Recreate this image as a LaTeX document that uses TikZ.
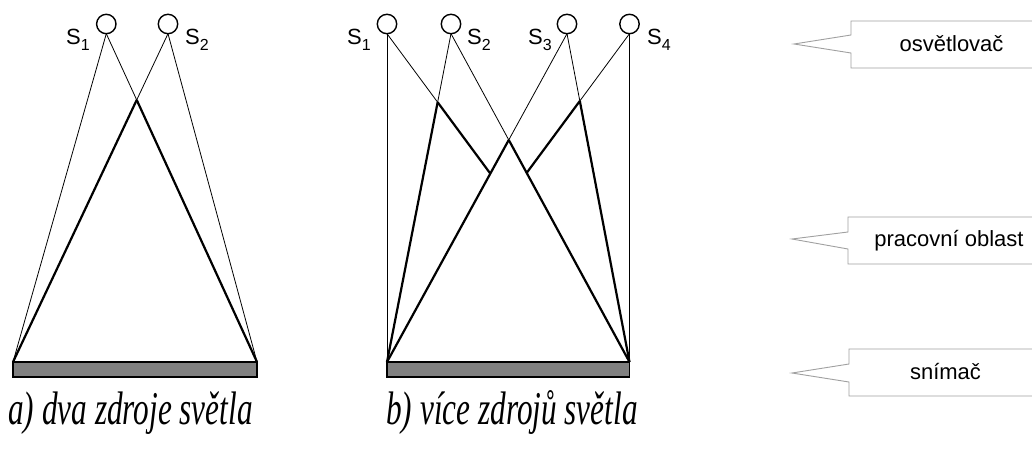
\documentclass[tikz,border=0pt]{standalone}
\usepackage{fontspec}
\setmainfont{Liberation Sans}
\newfontfamily\capfont{Liberation Serif}
\newcommand\lsub[1]{\raisebox{-6pt}{\fontsize{16}{16}\selectfont #1}}
\definecolor{sensorgray}{RGB}{128,128,128}
\definecolor{calloutgray}{RGB}{160,160,160}
\begin{document}
\begin{tikzpicture}[x=1pt,y=-1pt,
  thinray/.style={line width=0.8pt},
  thickray/.style={line width=2.2pt},
  lamp/.style={circle, draw, line width=1.4pt, minimum size=19.4pt, inner sep=0pt, outer sep=0pt, fill=white},
  sensor/.style={draw, line width=1.6pt, fill=sensorgray, minimum width=#1, minimum height=15pt, inner sep=0pt, outer sep=0pt, anchor=north west},
  lbl/.style={anchor=base west, inner sep=0pt, font=\fontsize{22}{26}\selectfont},
  callout/.style={draw=calloutgray, line width=0.9pt, fill=white},
  calltext/.style={anchor=base, inner sep=0pt, font=\fontsize{22}{26}\selectfont},
  caption/.style={anchor=base, inner sep=0pt, font=\capfont\itshape\fontsize{47}{52}\selectfont}]
\clip (0,0) rectangle (1032,450);
\fill[white] (0,0) rectangle (1032,450);

% ---------- panel a ----------
\node[lamp] (a1) at (106.3,24) {};
\node[lamp] (a2) at (168,24) {};
\node[sensor=244pt] (sa) at (13,362) {};
\coordinate (aL) at (sa.north west);
\coordinate (aR) at (sa.north east);
\coordinate (ta1) at (a1.south);
\coordinate (ta2) at (a2.south);
\coordinate (XA) at (intersection of ta1--aR and ta2--aL);
\draw[thinray] (ta1) -- (aL);
\draw[thinray] (ta2) -- (aR);
\draw[thinray] (ta1) -- (XA);
\draw[thinray] (ta2) -- (XA);
\draw[thickray] (XA) -- (aR);
\draw[thickray] (XA) -- (aL);
\node[sensor=244pt] at (13,362) {};
\node[lbl] (la1) at (66,44.5) {S\lsub{1}};
\node[lbl] (la2) at (185,44.5) {S\lsub{2}};

% ---------- panel b ----------
\node[lamp] (b1) at (387,24) {};
\node[lamp] (b2) at (451,24) {};
\node[lamp] (b3) at (567,24) {};
\node[lamp] (b4) at (629.5,24) {};
\node[sensor=242.5pt] (sb) at (387,362) {};
\coordinate (bL) at (sb.north west);
\coordinate (bR) at (sb.north east);
\coordinate (tb1) at (b1.south);
\coordinate (tb2) at (b2.south);
\coordinate (tb3) at (b3.south);
\coordinate (tb4) at (b4.south);
\coordinate (X1) at (intersection of tb1--bR and tb2--bL);
\coordinate (Y1) at (intersection of tb1--bR and tb3--bL);
\coordinate (Z)  at (intersection of tb2--bR and tb3--bL);
\coordinate (X2) at (intersection of tb3--bR and tb4--bL);
\coordinate (Y2) at (intersection of tb4--bL and tb2--bR);
\draw[thinray] (tb1) -- (bL);
\draw[thinray] (tb4) -- (bR);
\draw[thinray] (tb1) -- (X1);
\draw[thinray] (tb2) -- (X1);
\draw[thinray] (tb2) -- (Z);
\draw[thinray] (tb3) -- (Z);
\draw[thinray] (tb3) -- (X2);
\draw[thinray] (tb4) -- (X2);
\draw[thickray] (X1) -- (Y1);
\draw[thickray] (X1) -- (bL);
\draw[thickray] (Z) -- (bR);
\draw[thickray] (Z) -- (bL);
\draw[thickray] (X2) -- (bR);
\draw[thickray] (X2) -- (Y2);
\node[sensor=242.5pt] at (387,362) {};
\node[lbl] (lb1) at (347,44.5) {S\lsub{1}};
\node[lbl] (lb2) at (467,44.5) {S\lsub{2}};
\node[lbl] (lb3) at (528,44.5) {S\lsub{3}};
\node[lbl] (lb4) at (647,44.5) {S\lsub{4}};

% ---------- captions ----------
\node[caption] (capa) at (130.5,424) {\scalebox{0.665}[1]{a) dva zdroje světla}};
\node[caption] (capb) at (512,424) {\scalebox{0.665}[1]{b) více zdrojů světla}};

% ---------- callouts ----------
\draw[callout] (851,21) -- (1052,21) -- (1052,68) -- (851,68) -- (851,53) -- (794,44) -- (851,35) -- cycle;
\node[calltext] (c1) at (951.5,51.5) {osvětlovač};
\draw[callout] (848,217) -- (1052,217) -- (1052,264) -- (848,264) -- (848,249) -- (792,239) -- (848,232) -- cycle;
\node[calltext] (c2) at (949,246) {pracovní oblast};
\draw[callout] (849,349) -- (1052,349) -- (1052,396) -- (849,396) -- (849,382) -- (792,373) -- (849,364) -- cycle;
\node[calltext] (c3) at (945.5,379) {snímač};
\end{tikzpicture}
\end{document}
